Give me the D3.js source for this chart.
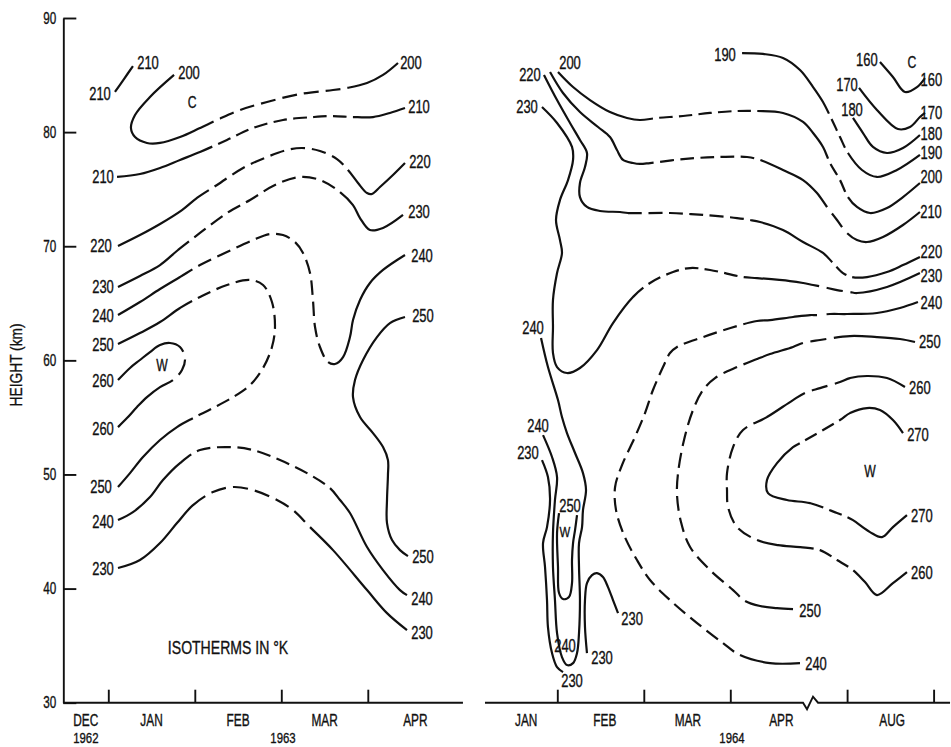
<!DOCTYPE html>
<html>
<head>
<meta charset="utf-8">
<script src="https://cdn.jsdelivr.net/npm/d3@7"></script>
<style>
  html, body { margin: 0; padding: 0; background: #fff; }
  svg { display: block; }
</style>
</head>
<body>
<svg id="chart" width="951" height="747"></svg>
<script>
// ---- Axis values -------------------------------------------------------
// Heights in km. Times in months: left panel month 1 = 1 Jan 1963,
// right panel month 0 = 1 Jan 1964 (axis broken between April and August).
const heightTicks = [90, 80, 70, 60, 50, 40, 30];

const leftMonthTicks = [1, 2, 3, 4];
const leftMonthNames = ["DEC", "JAN", "FEB", "MAR", "APR"];
const leftMonthNameAt = [0.74, 1.5, 2.5, 3.5, 4.55];
const leftYearNames = ["1962", "1963"];
const leftYearAt = [0.74, 3.02];

const rightMonthTicks = [1, 2, 3, 7, 8];
const rightMonthNames = ["JAN", "FEB", "MAR", "APR", "AUG"];
const rightMonthNameAt = [0.64, 1.55, 2.51, 3.59, 7.52];
const rightYearNames = ["1964"];
const rightYearAt = [3.02];

// ---- Isotherms 1962-63 ([month, km]) ------------------------------------
const iso63_210a = [[1.077,83.52],[1.181,84.65],[1.285,85.79]];
const iso63_200 = [[1.760,85.01],[1.482,83.08],[1.309,81.50],[1.262,80.36],[1.309,79.57],[1.447,79.05],[1.598,79.05],[1.829,79.57],[2.060,80.36],[2.257,81.06],[2.523,81.94],[2.835,82.64],[3.216,83.34],[3.598,83.69],[3.760,83.87],[3.991,84.30],[4.176,85.01],[4.349,86.06]];
const iso63_210 = [[1.101,76.07],[1.366,76.33],[1.598,76.86],[1.829,77.56],[2.060,78.26],[2.372,79.31],[2.673,80.36],[3.020,81.06],[3.366,81.32],[3.598,81.41],[3.829,81.32],[4.060,81.32],[4.256,81.68],[4.430,82.11]];
const iso63_220 = [[1.112,70.02],[1.366,70.98],[1.598,71.95],[1.852,73.17],[2.025,74.23],[2.257,75.37],[2.558,76.86],[2.835,77.82],[3.066,78.43],[3.239,78.61],[3.447,78.35],[3.644,77.64],[3.771,76.68],[3.887,75.54],[3.991,74.66],[4.048,74.58],[4.141,75.19],[4.291,76.24],[4.430,77.29]];
const iso63_230 = [[1.112,66.43],[1.366,67.39],[1.598,68.35],[1.806,69.67],[2.060,71.16],[2.372,72.91],[2.639,74.05],[2.927,75.37],[3.216,76.07],[3.447,75.80],[3.679,74.75],[3.829,73.61],[3.910,72.47],[4.025,71.42],[4.176,71.60],[4.407,72.74]];
const iso63_240a = [[1.112,63.97],[1.366,65.11],[1.598,66.25],[1.829,67.30],[2.060,68.35],[2.372,69.49],[2.673,70.54],[2.869,71.07],[3.020,70.98],[3.158,70.37],[3.251,69.41],[3.332,67.65],[3.366,65.29],[3.390,62.92],[3.447,61.17],[3.540,59.85],[3.621,59.68],[3.714,60.29],[3.794,62.04],[3.829,63.53],[3.910,65.29],[4.025,66.78],[4.176,67.92],[4.430,69.23]];
const iso63_250a = [[1.112,61.43],[1.366,62.39],[1.598,63.36],[1.829,64.59],[2.060,65.55],[2.372,66.60],[2.639,67.04],[2.789,66.60],[2.892,65.11],[2.927,62.92],[2.892,61.17],[2.789,59.33],[2.639,57.84],[2.442,56.78],[2.210,55.82],[1.980,54.94],[1.794,54.15],[1.598,53.02],[1.401,51.53],[1.251,50.12],[1.112,48.90]];
const iso63_260 = [[1.112,58.27],[1.251,59.33],[1.366,60.03],[1.482,60.73],[1.598,61.34],[1.713,61.52],[1.829,61.17],[1.887,60.20],[1.852,59.15],[1.748,58.27],[1.598,57.66],[1.447,56.78],[1.332,55.91],[1.216,54.94],[1.112,54.15]];
const iso63_250b = [[4.430,63.80],[4.256,63.27],[4.106,62.04],[3.945,60.03],[3.852,58.27],[3.829,56.78],[3.910,55.03],[4.060,53.63],[4.176,52.40],[4.233,51.26],[4.233,49.95],[4.222,47.76],[4.222,45.74],[4.280,44.25],[4.372,43.37],[4.464,42.85]];
const iso63_240b = [[1.112,46.00],[1.285,46.70],[1.482,48.02],[1.632,49.51],[1.829,51.00],[2.060,52.14],[2.407,52.40],[2.673,52.14],[2.985,51.26],[3.297,50.12],[3.563,48.81],[3.679,47.76],[3.794,46.62],[3.991,43.64],[4.176,41.62],[4.372,39.87],[4.453,39.43]];
const iso63_230b = [[1.112,41.80],[1.366,42.50],[1.598,43.99],[1.794,45.74],[1.980,47.32],[2.210,48.46],[2.442,48.90],[2.673,48.63],[2.950,47.76],[3.135,46.88],[3.332,45.39],[3.598,43.37],[3.991,39.87],[4.222,37.85],[4.453,36.36]];

// ---- Isotherms 1964 -----------------------------------------------------
const iso64_160 = [[7.380,86.14],[7.530,84.83],[7.669,83.52],[7.808,83.95],[7.900,84.74]];
const iso64_170 = [[7.138,83.87],[7.345,81.94],[7.588,80.27],[7.727,80.45],[7.842,81.32],[7.900,81.68]];
const iso64_180 = [[7.068,81.24],[7.184,79.92],[7.299,78.70],[7.461,78.17],[7.646,78.61],[7.842,79.75]];
const iso64_190 = [[3.136,86.93],[3.379,86.85],[3.609,86.50],[3.806,85.44],[3.957,83.95],[4.614,82.64],[5.505,81.06],[6.297,79.57],[7.010,78.17],[7.172,76.68],[7.345,76.07],[7.576,76.68],[7.842,78.00]];
const iso64_200 = [[1.008,85.27],[1.182,83.95],[1.378,82.81],[1.609,81.76],[1.806,81.24],[1.956,81.06],[2.153,81.24],[2.454,81.41],[2.766,81.68],[3.078,81.85],[3.309,81.85],[3.609,81.68],[3.841,80.89],[3.957,79.92],[4.614,78.70],[5.307,77.29],[6.297,75.80],[7.010,74.31],[7.114,73.44],[7.265,72.91],[7.461,73.35],[7.646,74.31],[7.842,75.54]];
const iso64_210 = [[0.916,85.27],[1.066,83.43],[1.262,81.76],[1.471,80.45],[1.609,79.57],[1.690,78.43],[1.760,77.56],[1.875,77.29],[1.956,77.21],[2.072,77.29],[2.454,77.64],[2.847,77.82],[3.194,77.82],[3.344,77.56],[3.609,76.68],[3.841,75.80],[4.020,74.66],[5.010,73.44],[6.000,72.30],[6.990,71.16],[7.114,70.54],[7.230,70.37],[7.415,70.81],[7.646,71.86],[7.842,73.00]];
const iso64_220 = [[0.846,85.01],[0.997,82.81],[1.147,80.80],[1.262,79.31],[1.343,78.17],[1.320,76.94],[1.262,75.54],[1.262,74.31],[1.343,73.44],[1.494,73.09],[1.725,73.00],[1.817,72.91],[2.303,72.91],[2.685,72.74],[3.078,72.47],[3.228,72.30],[3.344,72.12],[3.609,71.42],[3.841,70.37],[4.614,69.41],[5.604,68.53],[6.594,67.65],[7.057,67.30],[7.230,67.30],[7.461,67.74],[7.646,68.35],[7.842,69.06]];
const iso64_230 = [[0.823,82.20],[0.997,80.80],[1.170,78.70],[1.182,77.56],[1.124,75.80],[1.031,74.05],[0.985,72.30],[1.031,70.54],[1.054,69.41],[0.997,67.65],[0.950,65.29],[0.950,62.92],[0.950,60.64],[0.997,59.41],[1.112,58.89],[1.262,59.33],[1.459,60.90],[1.644,63.27],[1.875,65.55],[2.072,66.78],[2.338,67.74],[2.535,68.09],[2.766,67.92],[3.147,67.30],[3.309,67.21],[3.690,66.95],[3.841,66.78],[3.957,66.60],[4.614,66.43],[6.000,66.16],[7.034,65.99],[7.114,65.90],[7.461,66.43],[7.842,67.65]];
const iso64_240 = [[7.819,65.11],[7.611,64.59],[7.345,64.15],[6.990,64.06],[5.307,64.06],[4.020,63.97],[3.922,63.97],[3.725,63.80],[3.459,63.53],[3.309,63.45],[3.078,63.01],[2.685,62.04],[2.384,61.17],[2.303,60.64],[2.222,59.41],[2.106,57.40],[2.014,55.38],[1.898,53.28],[1.748,50.82],[1.668,48.90],[1.679,46.88],[1.771,44.69],[1.921,42.50],[2.072,40.75],[2.303,38.99],[2.616,36.98],[2.916,35.22],[3.112,34.17],[3.459,33.47],[3.806,33.47]];
const iso64_250 = [[7.785,61.61],[7.611,61.87],[7.345,62.04],[7.034,62.13],[4.317,61.78],[3.841,61.52],[3.725,61.17],[3.459,60.55],[3.309,60.11],[3.078,59.41],[2.823,58.45],[2.685,57.40],[2.569,55.65],[2.465,53.02],[2.396,50.12],[2.384,48.20],[2.430,45.83],[2.535,43.64],[2.766,41.62],[3.032,39.87],[3.171,38.91],[3.344,38.47],[3.540,38.29],[3.725,38.20]];
const iso64_260 = [[7.669,57.66],[7.461,58.45],[7.230,58.63],[7.034,58.45],[6.297,58.10],[4.317,57.57],[3.864,57.14],[3.725,56.52],[3.424,55.03],[3.147,53.89],[3.032,52.40],[2.962,50.12],[2.962,48.63],[2.974,47.14],[3.078,45.39],[3.309,44.25],[3.552,43.81],[3.806,43.64],[4.317,43.37],[6.000,42.50],[7.068,41.62],[7.207,40.57],[7.345,39.43],[7.530,40.48],[7.692,41.45]];
const iso64_270 = [[7.646,53.63],[7.530,54.77],[7.380,55.65],[7.230,55.82],[7.034,55.38],[6.297,54.77],[3.806,52.75],[3.725,52.40],[3.540,51.00],[3.424,49.51],[3.436,48.37],[3.655,47.76],[3.922,47.49],[6.000,46.62],[6.990,46.27],[7.068,46.00],[7.265,44.95],[7.403,44.51],[7.530,45.39],[7.692,46.44]];
const iso64_240loop = [[0.812,61.96],[0.892,59.41],[1.008,56.52],[1.054,55.03],[1.112,53.63],[1.205,51.88],[1.297,50.12],[1.332,48.63],[1.297,46.88],[1.286,45.39],[1.251,43.99],[1.251,41.89],[1.262,38.99],[1.251,36.10],[1.228,34.35],[1.182,33.47],[1.112,33.30],[1.054,34.00],[0.997,36.10],[0.973,38.99],[0.950,41.89],[0.950,44.86],[0.973,47.76],[0.997,49.77],[0.939,51.53],[0.835,53.45]];
const iso64_250W = [[1.020,46.62],[0.997,44.86],[1.008,41.89],[1.020,39.61],[1.066,39.08],[1.135,39.26],[1.170,40.48],[1.170,42.50],[1.182,43.99],[1.205,45.13],[1.228,46.44]];
const iso64_230L = [[0.823,51.26],[0.892,49.77],[0.916,47.76],[0.881,45.39],[0.835,43.99],[0.858,41.89],[0.881,38.99],[0.892,36.63],[0.939,34.35],[0.997,33.12],[1.066,32.68]];
const iso64_230U = [[1.343,34.35],[1.320,36.63],[1.320,38.99],[1.343,40.48],[1.401,41.18],[1.459,41.36],[1.528,41.01],[1.586,40.13],[1.644,38.99],[1.702,37.85]];

// Point-index ranges of each isotherm that are drawn dashed (inferred parts)
const dashed63 = {
  iso63_200: [[8, 14]], iso63_210: [[4, 10]], iso63_220: [[4, 12]],
  iso63_230: [[3, 10]], iso63_240a: [[3, 15]], iso63_250a: [[3, 15]],
  iso63_260: [[5, 9]], iso63_240b: [[4, 10]], iso63_230b: [[4, 10]]
};
const dashed64 = {
  iso64_190: [[5, 8]], iso64_200: [[5, 10], [14, 17]], iso64_210: [[8, 13], [16, 19]],
  iso64_220: [[11, 15], [19, 22]], iso64_230: [[18, 23], [26, 30]],
  iso64_240: [[3, 5], [9, 27]], iso64_250: [[3, 5], [8, 20]],
  iso64_260: [[3, 6], [8, 15], [17, 20]], iso64_270: [[4, 6], [12, 14]]
};

// ---- Isotherm labels [text, month, km] ---------------------------------
const labels63 = [
  ["210",0.904,83.34],["210",1.459,86.06],["200",1.933,85.18],["200",4.499,86.14],
  ["210",0.939,76.15],["210",4.592,82.20],["220",0.916,70.02],["220",4.603,77.38],
  ["230",0.939,66.51],["230",4.592,73.00],["240",0.939,63.97],["240",4.627,69.23],
  ["250",0.939,61.43],["250",4.638,63.97],["260",0.939,58.27],["260",0.939,54.07],
  ["250",0.916,48.98],["240",0.939,45.92],["230",0.939,41.80],["250",4.638,42.85],
  ["240",4.627,39.17],["230",4.627,36.19]
];
const marks63 = [["C",1.968,82.64],["W",1.621,59.59]];
const labels64 = [
  ["220",0.684,85.09],["200",1.147,86.06],["230",0.650,82.20],["190",2.939,86.76],
  ["160",7.229,86.32],["160",7.975,84.57],["170",6.990,84.13],["180",7.057,81.94],
  ["170",7.975,81.76],["180",7.975,79.92],["190",7.975,78.17],["200",7.975,76.07],
  ["210",7.970,73.00],["220",7.975,69.58],["230",7.975,67.39],["240",7.975,65.11],
  ["250",7.957,61.61],["260",7.842,57.66],["270",7.819,53.54],["270",7.865,46.44],
  ["260",7.865,41.45],["250",3.922,38.12],["240",3.991,33.47],["240",0.719,62.92],
  ["240",0.777,54.33],["230",0.661,51.88],["250",1.147,47.32],["240",1.089,35.05],
  ["230",1.864,37.41],["230",1.517,34.00],["230",1.170,31.98]
];
const marks64 = [["C",7.749,86.14],["W",7.265,50.30],["W",1.089,44.95]];
const legendNote = ["ISOTHERMS IN \u00B0K", 2.384, 34.87];

// ---- Scales --------------------------------------------------------------
const svg = d3.select("#chart");
const INK = "#111";
const FONT = "'Liberation Sans', Arial, Helvetica, sans-serif";

const y = d3.scaleLinear().domain([30, 90]).range([702.7, 18]);
const xL = d3.scaleLinear().domain([0, 5]).range([21.8, 454.3]);
// piecewise: months 4..7 squeezed into the axis break
const xR = d3.scaleLinear().domain([0, 4, 7, 8.5]).range([470.8, 816.8, 847.1, 976.85]);

svg.append("rect").attr("width", 951).attr("height", 747).attr("fill", "#fff");

const lineGen = d3.line().curve(d3.curveCatmullRom.alpha(0.5));

// Draw one isotherm as a single smooth path; dashed parts are produced
// with an explicit dash array measured along the path.
function drawIsotherm(g, xs, pts, spans) {
  const px = pts.map(p => [xs(p[0]), y(p[1])]);
  const path = g.append("path")
    .attr("d", lineGen(px))
    .attr("fill", "none")
    .attr("stroke", INK)
    .attr("stroke-width", 2.2)
    .attr("stroke-linejoin", "round");
  if (!spans || !spans.length) return;
  const node = path.node();
  const total = node.getTotalLength();
  const samples = [];
  for (let l = 0; l <= total; l += 0.5) {
    const p = node.getPointAtLength(l);
    samples.push([l, p.x, p.y]);
  }
  let start = 0;
  const lenAt = i => {
    if (i <= 0) return 0;
    if (i >= px.length - 1) return total;
    const [tx, ty] = px[i];
    let best = Infinity, bi = start;
    for (let k = start; k < samples.length; k++) {
      const d = Math.hypot(samples[k][1] - tx, samples[k][2] - ty);
      if (d < best) { best = d; bi = k; }
      else if (best < 1.5 && d > best + 4) break;
    }
    start = bi;
    return samples[bi][0];
  };
  const arr = [];
  let pos = 0;
  spans.forEach(([a, b]) => {
    const la = lenAt(a), lb = lenAt(b);
    if (la > pos) arr.push(la - pos, 0);
    const span = lb - la;
    const n = Math.max(1, Math.round(span / 21));
    const u = span / n;
    for (let k = 0; k < n; k++) arr.push(u * 0.68, u * 0.32);
    pos = lb;
  });
  if (total > pos) arr.push(total - pos, 0);
  path.attr("stroke-dasharray", arr.map(v => v.toFixed(2)).join(" "));
}

function addText(g, x, yy, s, size, k, anchor) {
  return g.append("text")
    .attr("x", x).attr("y", yy)
    .attr("dy", "0.36em")
    .attr("text-anchor", anchor || "middle")
    .attr("font-family", FONT)
    .attr("font-size", size)
    .attr("fill", INK)
    .attr("data-k", k)
    .text(s);
}

// ---- Left panel (1962-63) -------------------------------------------
const gL = svg.append("g");
const left = {
  iso63_210a, iso63_200, iso63_210, iso63_220, iso63_230, iso63_240a,
  iso63_250a, iso63_260, iso63_250b, iso63_240b, iso63_230b
};
Object.entries(left).forEach(([name, pts]) => drawIsotherm(gL, xL, pts, dashed63[name]));
labels63.forEach(([s, t, h]) => addText(gL, xL(t), y(h), s, 18, 0.72));
marks63.forEach(([s, t, h]) => addText(gL, xL(t), y(h), s, 16, 0.76));
addText(gL, xL(legendNote[1]), y(legendNote[2]), legendNote[0], 18, 0.78);

// height axis
const yAxis = svg.append("g")
  .attr("transform", `translate(${xL(0.48)},0)`)
  .call(d3.axisLeft(y).tickValues(heightTicks).tickSize(-13).tickSizeOuter(0).tickPadding(7));
yAxis.selectAll("path, line").attr("stroke", INK).attr("stroke-width", 1.9);
yAxis.selectAll("text").attr("font-family", FONT).attr("font-size", 16).attr("fill", INK).attr("data-k", 0.73);

svg.append("text")
  .attr("transform", `translate(16,${y(59.6)}) rotate(-90)`)
  .attr("x", 0).attr("y", 0).attr("dy", "0.36em")
  .attr("text-anchor", "middle")
  .attr("font-family", FONT).attr("font-size", 16).attr("fill", INK)
  .attr("data-k", 0.86)
  .text("HEIGHT (km)");

// time axis, left
const axisY = y(30);
const xAxisL = svg.append("g")
  .attr("transform", `translate(0,${axisY})`)
  .call(d3.axisBottom(xL).tickValues(leftMonthTicks).tickSize(-13).tickSizeOuter(0).tickFormat(""));
xAxisL.select(".domain").remove();
xAxisL.selectAll("line").attr("stroke", INK).attr("stroke-width", 1.9);
svg.append("line")
  .attr("x1", xL(0.48)).attr("x2", xL(5.1))
  .attr("y1", axisY).attr("y2", axisY)
  .attr("stroke", INK).attr("stroke-width", 1.9);
leftMonthNames.forEach((m, i) => addText(svg, xL(leftMonthNameAt[i]), 720, m, 16, 0.74));
leftYearNames.forEach((s, i) => addText(svg, xL(leftYearAt[i]), 738, s, 15, 0.76));

// ---- Right panel (1964) ---------------------------------------------
const gR = svg.append("g");
const right = {
  iso64_160, iso64_170, iso64_180, iso64_190, iso64_200, iso64_210, iso64_220,
  iso64_230, iso64_240, iso64_250, iso64_260, iso64_270,
  iso64_240loop, iso64_250W, iso64_230L, iso64_230U
};
Object.entries(right).forEach(([name, pts]) => drawIsotherm(gR, xR, pts, dashed64[name]));
labels64.forEach(([s, t, h]) => addText(gR, xR(t), y(h), s, 18, 0.72));
marks64.forEach(([s, t, h], i) => addText(gR, xR(t), y(h), s, i === 2 ? 15 : 16, 0.76));

const xAxisR = svg.append("g")
  .attr("transform", `translate(0,${axisY})`)
  .call(d3.axisBottom(xR).tickValues(rightMonthTicks).tickSize(-13).tickSizeOuter(0).tickFormat(""));
xAxisR.select(".domain").remove();
xAxisR.selectAll("line").attr("stroke", INK).attr("stroke-width", 1.9);

// axis line with a break mark in late April
const bx = xR(3.887);
svg.append("path")
  .attr("d", `M${xR(0.164)},${axisY}H${bx - 4}L${bx},${axisY + 6.5}L${bx + 6},${axisY - 6}L${bx + 11},${axisY}H${xR(8.19)}`)
  .attr("fill", "none").attr("stroke", INK).attr("stroke-width", 1.9).attr("stroke-linejoin", "miter");
rightMonthNames.forEach((m, i) => addText(svg, xR(rightMonthNameAt[i]), 720, m, 16, 0.74));
rightYearNames.forEach((s, i) => addText(svg, xR(rightYearAt[i]), 738, s, 15, 0.76));

// ---- Narrow lettering -----------------------------------------------
svg.selectAll("text").each(function () {
  const k = +this.getAttribute("data-k") || 0.74;
  const anchor = getComputedStyle(this).textAnchor;
  const w = this.getComputedTextLength();
  const nw = w * k;
  const x = +(this.getAttribute("x") || 0);
  const x0 = anchor === "middle" ? x - nw / 2 : anchor === "end" ? x - nw : x;
  this.setAttribute("text-anchor", "start");
  this.setAttribute("x", x0);
  this.setAttribute("textLength", nw);
  this.setAttribute("lengthAdjust", "spacingAndGlyphs");
  this.setAttribute("stroke", INK);
  this.setAttribute("stroke-width", 0.35);
});
</script>
</body>
</html>
